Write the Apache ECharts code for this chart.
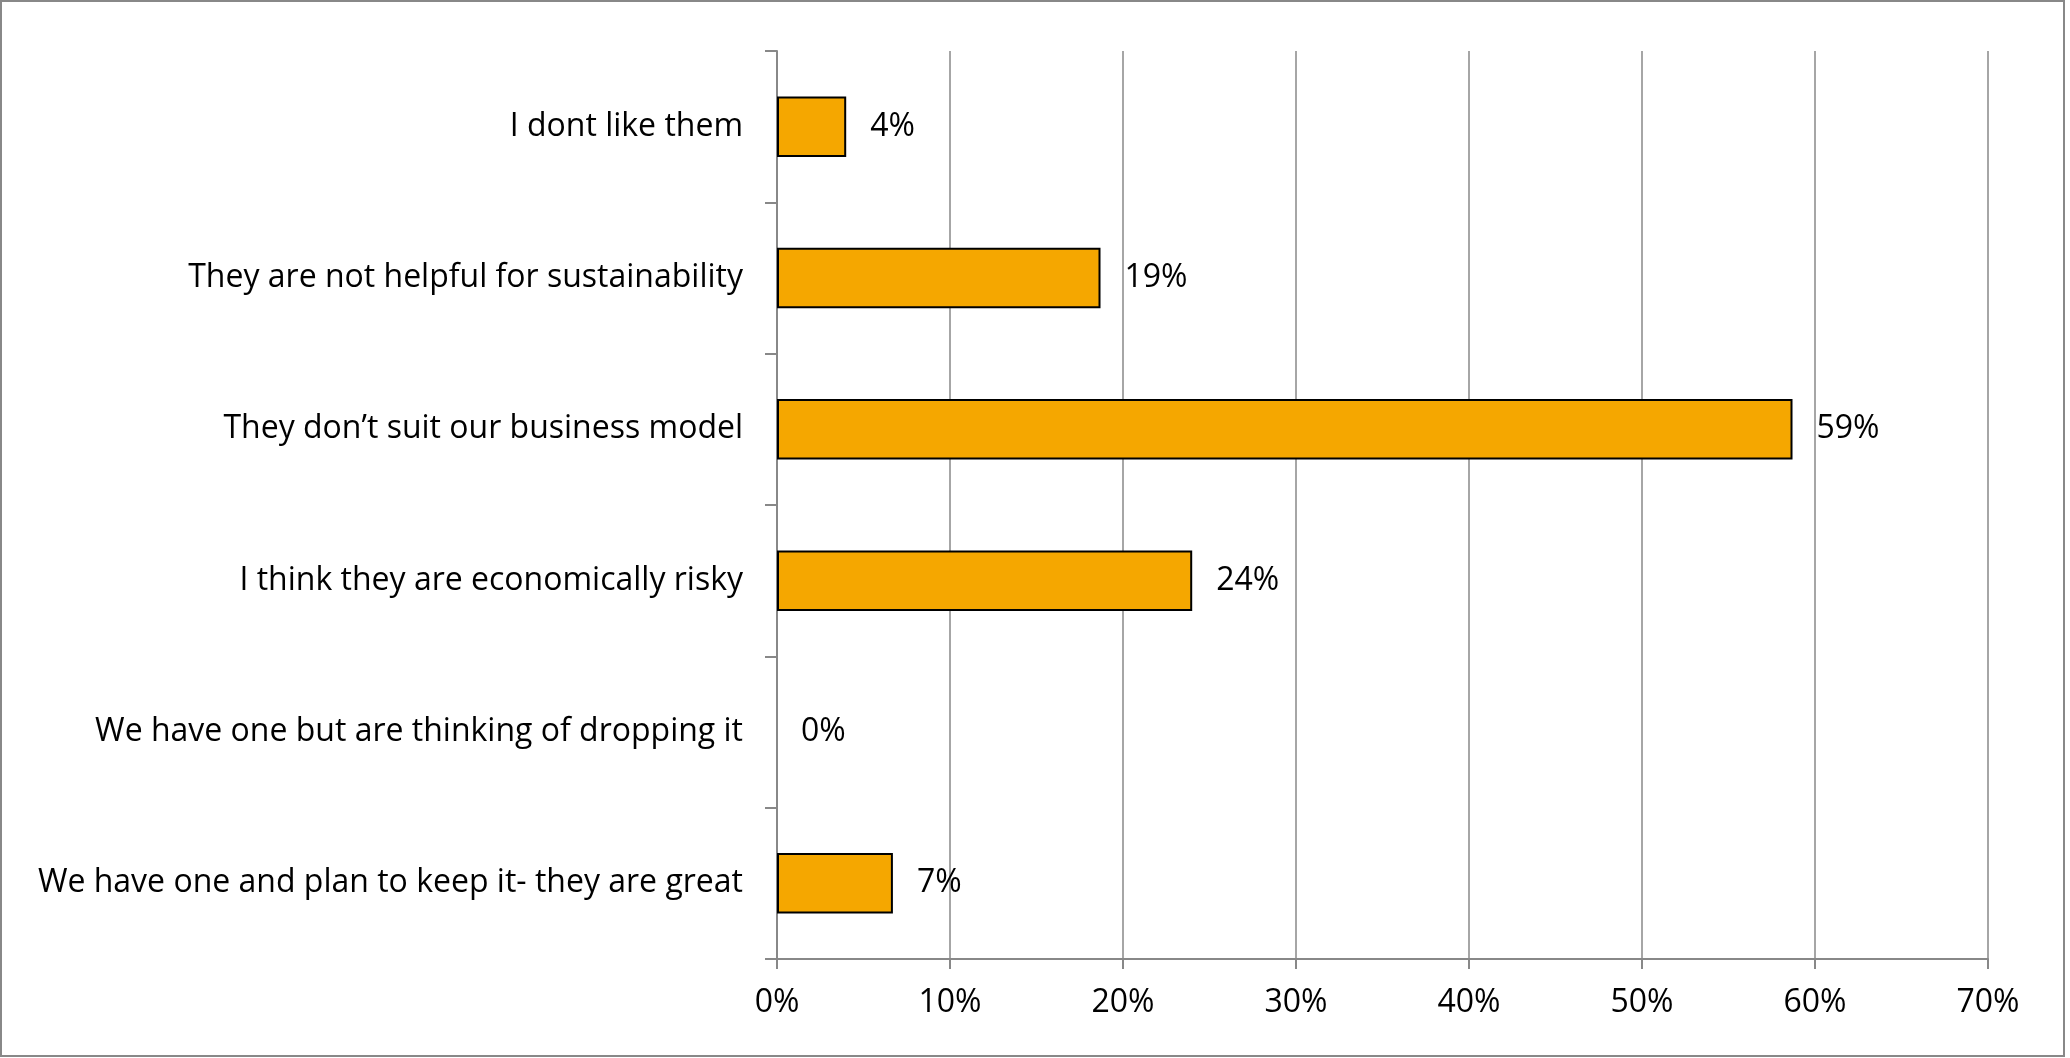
<!DOCTYPE html>
<html>
<head>
<meta charset="utf-8">
<script src="https://cdn.jsdelivr.net/npm/echarts@6/dist/echarts.min.js"></script>
<style>
html,body{margin:0;padding:0;background:#fff;}
#chart{width:2070px;height:1058px;}
</style>
</head>
<body>
<div id="chart"></div>
<script>
const categories = [
  "I dont like them",
  "They are not helpful for sustainability",
  "They don\u2019t suit our business model",
  "I think they are economically risky",
  "We have one but are thinking of dropping it",
  "We have one and plan to keep it- they are great"
];
const values = [4.0, 18.7, 58.7, 24.0, 0, 6.7];
const xTicks = [0, 10, 20, 30, 40, 50, 60, 70];

const FONT = "Open Sans";
const FS = 32;
const chart = echarts.init(document.getElementById('chart'));
chart.setOption({
  animation: false,
  backgroundColor: '#fff',
  textStyle: { fontFamily: FONT },
  graphic: [{
    type: 'rect', silent: true, z: 100,
    shape: { x: 1, y: 1, width: 2063, height: 1055 },
    style: { fill: 'none', stroke: '#888', lineWidth: 2 }
  }],
  grid: { left: 777, right: 82, top: 51, bottom: 99, containLabel: false },
  xAxis: {
    type: 'value', min: xTicks[0], max: xTicks[xTicks.length - 1], interval: 10,
    axisLine: { show: true, lineStyle: { color: '#888', width: 2 } },
    axisTick: { show: true, length: 10, lineStyle: { color: '#888', width: 2 } },
    splitLine: { show: true, lineStyle: { color: '#888', width: 1.5 } },
    axisLabel: { formatter: v => v + '%', color: '#000', fontSize: FS, fontFamily: FONT, margin: 28 }
  },
  yAxis: {
    type: 'category', data: categories, inverse: true,
    axisLine: { show: true, lineStyle: { color: '#888', width: 2 } },
    axisTick: { show: true, length: 12, alignWithLabel: false, lineStyle: { color: '#888', width: 2 } },
    axisLabel: { color: '#000', fontSize: FS, fontFamily: FONT, margin: 34 }
  },
  series: [{
    type: 'bar',
    data: values.map(v => v === 0 ? { value: v, itemStyle: { borderWidth: 0 } } : v),
    barCategoryGap: '60%',
    itemStyle: { color: '#F5A700', borderColor: '#000', borderWidth: 2 },
    label: {
      show: true, position: 'right', distance: 24, color: '#000', fontSize: FS, fontFamily: FONT,
      formatter: p => Math.round(p.value) + '%'
    }
  }]
});
</script>
</body>
</html>
